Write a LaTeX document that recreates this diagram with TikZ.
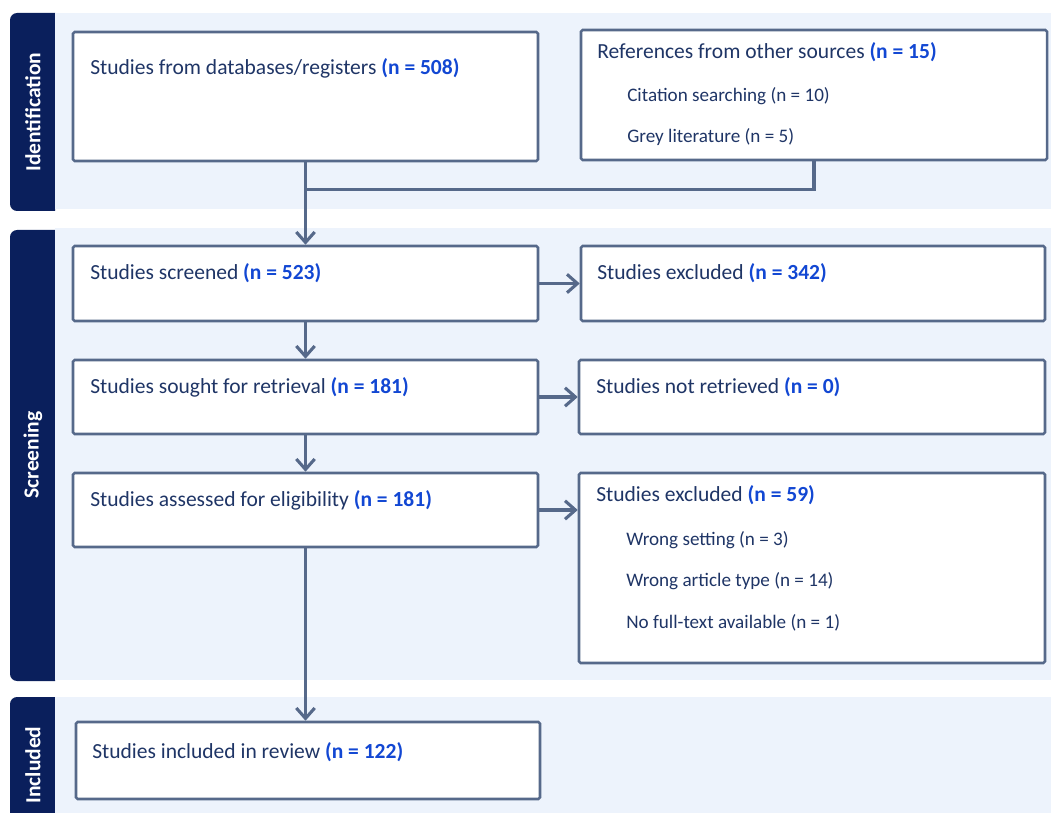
\documentclass[tikz,border=0pt]{standalone}
\usepackage{fontspec}
\setmainfont{Carlito}
\usetikzlibrary{arrows.meta, positioning, calc, fit}
\definecolor{tabnavy}{HTML}{0A1F5C}
\definecolor{bandbg}{HTML}{EDF3FC}
\definecolor{edgegray}{HTML}{56698A}
\definecolor{txtnavy}{HTML}{1F3566}
\definecolor{nblue}{HTML}{1247D3}
\newcommand{\nval}[1]{\textbf{\color{nblue}#1}}

\begin{document}
\begin{tikzpicture}[x=0.025cm, y=-0.025cm, >={Straight Barb[length=2.6mm,width=4.6mm]},
    box/.style={draw=edgegray, line width=1.8pt, fill=white, rounded corners=1.2pt, inner sep=0pt},
    main/.style={anchor=west, inner sep=0pt, text=txtnavy, font=\fontsize{15.3}{18}\selectfont},
    sub/.style={anchor=west, inner sep=0pt, text=txtnavy, font=\fontsize{13.6}{16}\selectfont},
    flow/.style={draw=edgegray, line width=2.2pt},
    tab/.style={fill=tabnavy, rounded corners=5pt},
    tablbl/.style={rotate=90, text=white, font=\bfseries\fontsize{15.3}{18}\selectfont}]
        \clip (0,0) rectangle (1051,813);
        % phase bands
        \begin{scope}
            \clip (0,0) rectangle (55,813);
            \fill[tab] (10,13) rectangle (70,211);
            \fill[tab] (10,230) rectangle (70,681);
            \fill[tab] (10,697) rectangle (70,840);
        \end{scope}
        \fill[bandbg] (55,13) rectangle (1051,209);
        \fill[bandbg] (55,228) rectangle (1051,680);
        \fill[bandbg] (55,697) rectangle (1051,813);
        \node[tablbl] (idlbl) at (33,112) {Identification};
        \node[tablbl] (scrlbl) at (33,455) {Screening};
        \node[tablbl] (inclbl) at (33,765) {Included};
        % boxes
        \node[box, fit={(73,32) (538,161)}] (db) {};
        \node[box, fit={(581,30) (1047,160)}] (refs) {};
        \node[box, fit={(73,246) (538,321)}] (scr) {};
        \node[box, fit={(581,246) (1045,321)}] (excl) {};
        \node[box, fit={(73,360) (538,434)}] (sought) {};
        \node[box, fit={(579,360) (1045,434)}] (notret) {};
        \node[box, fit={(73,473) (538,547)}] (elig) {};
        \node[box, fit={(579,473) (1045,663)}] (exfull) {};
        \node[box, fit={(76,722) (540,799)}] (incl) {};
        % texts
        \node[main] (dbt) at (90,68) {Studies from databases/registers \nval{(n = 508)}};
        \node[main] (refst) at (597,52) {References from other sources \nval{(n = 15)}};
        \node[sub] (cite) at (627,96) {Citation searching (n = 10)};
        \node[sub] (grey) at (627,137) {Grey literature (n = 5)};
        \node[main] (scrt) at (90,273) {Studies screened \nval{(n = 523)}};
        \node[main] (exclt) at (597,273) {Studies excluded \nval{(n = 342)}};
        \node[main] (soughtt) at (90,387) {Studies sought for retrieval \nval{(n = 181)}};
        \node[main] (notrett) at (596,387) {Studies not retrieved \nval{(n = 0)}};
        \node[main] (eligt) at (90,500) {Studies assessed for eligibility \nval{(n = 181)}};
        \node[main] (exfullt) at (596,495) {Studies excluded \nval{(n = 59)}};
        \node[sub] (wset) at (626,540) {Wrong setting (n = 3)};
        \node[sub] (wtype) at (626,581) {Wrong article type (n = 14)};
        \node[sub] (nofull) at (626,623) {No full-text available (n = 1)};
        \node[main] (inclt) at (92,752) {Studies included in review \nval{(n = 122)}};
        % connectors
        \coordinate (mrg) at ($(db.south)+(0,27)$);
        \draw[flow] (refs.south) |- (mrg);
        \draw[flow,->] (db.south) -- (scr.north);
        \draw[flow,->] (scr.south) -- (sought.north);
        \draw[flow,->] (sought.south) -- (elig.north);
        \draw[flow,->] (elig.south) -- (elig.south |- incl.north);
        \draw[flow,->] (scr.east) -- (excl.west);
        \draw[flow,->] (sought.east) -- (notret.west);
        \draw[flow,->] (elig.east) -- (elig.east -| exfull.west);
    \end{tikzpicture}
\end{document}
